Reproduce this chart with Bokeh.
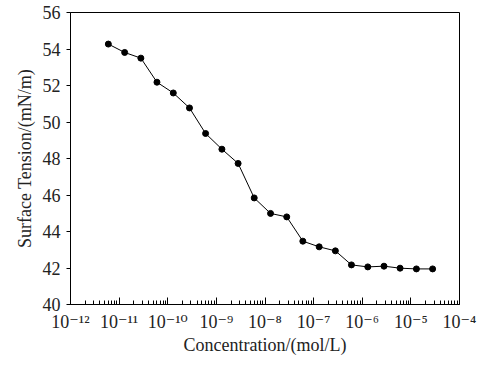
from bokeh.plotting import figure
from bokeh.models import FixedTicker, Range1d
from bokeh.embed import file_html
from bokeh.resources import INLINE

concentration = [6.0e-12, 1.3e-11, 2.8e-11, 6.0e-11, 1.3e-10, 2.8e-10, 6.0e-10,
                 1.3e-9, 2.8e-9, 6.0e-9, 1.3e-8, 2.8e-8, 6.0e-8, 1.3e-7,
                 2.8e-7, 6.0e-7, 1.3e-6, 2.8e-6, 6.0e-6, 1.3e-5, 2.8e-5]
surface_tension = [54.27, 53.81, 53.50, 52.18, 51.59, 50.77, 49.37,
                   48.51, 47.73, 45.84, 44.99, 44.80, 43.47, 43.16,
                   42.94, 42.17, 42.06, 42.10, 41.99, 41.95, 41.95]

x_ticks = [1e-12, 1e-11, 1e-10, 1e-9, 1e-8, 1e-7, 1e-6, 1e-5, 1e-4]
x_tick_labels = ["10⁻¹²", "10⁻¹¹", "10⁻¹⁰", "10⁻⁹", "10⁻⁸", "10⁻⁷", "10⁻⁶", "10⁻⁵", "10⁻⁴"]
y_ticks = [40, 42, 44, 46, 48, 50, 52, 54, 56]

FONT = "Liberation Serif"
TICK_FONT = "'Liberation Serif', 'DejaVu Serif', serif"
TXT = "#222222"

p = figure(width=493, height=357, x_axis_type="log", output_backend="svg",
           toolbar_location=None, x_range=Range1d(1e-12, 1e-4), y_range=Range1d(40, 56),
           min_border_left=70, min_border_right=34, min_border_top=12, min_border_bottom=53)
p.grid.visible = False
p.outline_line_color = "black"
p.outline_line_width = 1
p.background_fill_color = "white"
p.border_fill_color = "white"

p.line(concentration, surface_tension, line_color="black", line_width=1)
p.scatter(concentration, surface_tension, size=6, fill_color="black", line_color="black")

xa = p.xaxis[0]
xa.ticker = FixedTicker(ticks=x_ticks, minor_ticks=[m * d for d in x_ticks[:-1] for m in range(2, 10)])
xa.major_label_overrides = {t: l for t, l in zip(x_ticks, x_tick_labels)}
xa.major_tick_in = 7
xa.major_tick_out = 0
xa.minor_tick_in = 4
xa.minor_tick_out = 0
xa.major_label_standoff = 7
xa.axis_label = "Concentration/(mol/L)"
xa.axis_label_standoff = 0

ya = p.yaxis[0]
ya.ticker = FixedTicker(ticks=y_ticks)
ya.major_tick_in = 0
ya.major_tick_out = 4
ya.minor_tick_in = 0
ya.minor_tick_out = 0
ya.major_label_standoff = 6
ya.axis_label = "Surface Tension/(mN/m)"
ya.axis_label_standoff = 5

for ax in (xa, ya):
    ax.axis_line_color = "black"
    ax.major_tick_line_color = "black"
    ax.minor_tick_line_color = "black"
    ax.major_label_text_font = FONT
    ax.major_label_text_font_size = "18px"
    ax.major_label_text_color = TXT
    ax.axis_label_text_font = FONT
    ax.axis_label_text_font_size = "18px"
    ax.axis_label_text_font_style = "normal"
    ax.axis_label_text_color = TXT

xa.major_label_text_font = TICK_FONT
xa.major_label_text_font_size = "18px"

open("out.html", "w").write(file_html(p, INLINE))
